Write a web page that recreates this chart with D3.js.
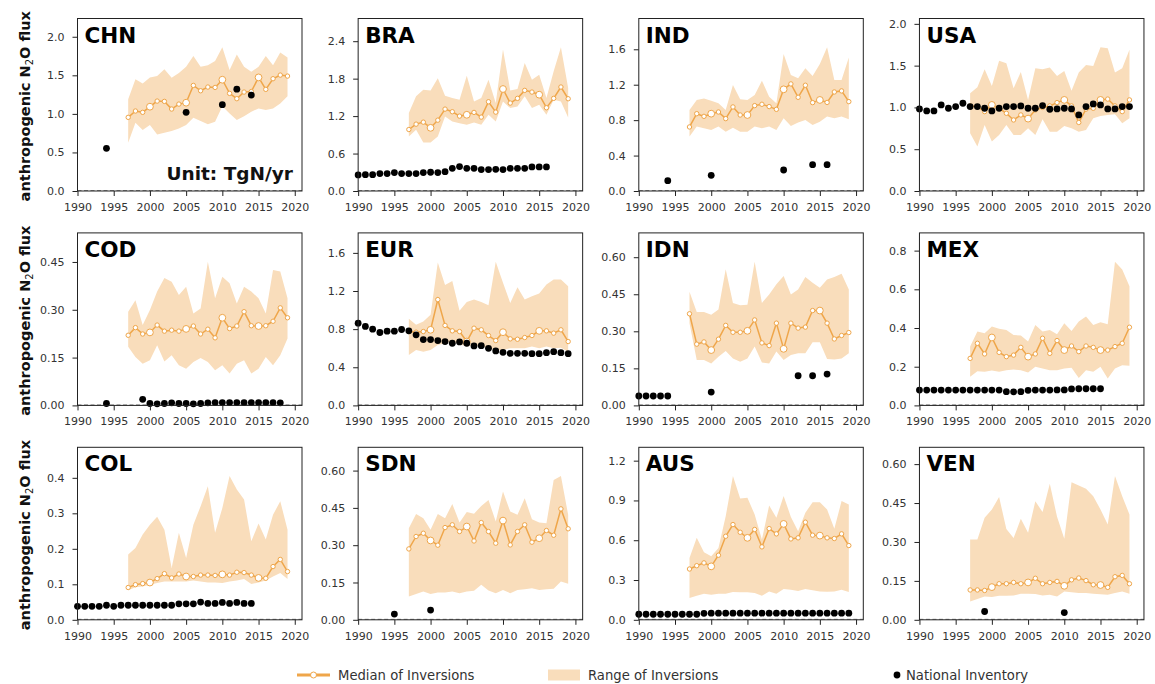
<!DOCTYPE html>
<html>
<head>
<meta charset="utf-8">
<script src="https://cdn.jsdelivr.net/npm/d3@7"></script>
<style>
  body { margin: 0; background: #fff; }
  svg { display: block; }
  text { font-family: "DejaVu Sans", sans-serif; }
</style>
</head>
<body>
<svg id="chart" width="1155" height="684"></svg>
<script>
// ---- data: anthropogenic N2O flux (TgN/yr) ----
const inversionYears = [1997,1998,1999,2000,2001,2002,2003,2004,2005,2006,2007,2008,2009,2010,2011,2012,2013,2014,2015,2016,2017,2018,2019];
const xTickYears = [1990,1995,2000,2005,2010,2015,2020];
const countries = ["CHN","BRA","IND","USA","COD","EUR","IDN","MEX","COL","SDN","AUS","VEN"];

const CHN_median = [0.955,1.037,1.02,1.093,1.166,1.162,1.063,1.127,1.145,1.369,1.30,1.348,1.343,1.443,1.266,1.197,1.283,1.29,1.473,1.318,1.456,1.503,1.49];
const CHN_low    = [0.626,0.886,0.79,0.855,0.734,0.756,0.778,0.812,0.855,0.95,0.907,0.864,0.898,1.10,1.006,0.92,0.97,1.028,1.07,1.05,1.07,1.136,1.23];
const CHN_high   = [1.19,1.45,1.395,1.473,1.49,1.58,1.47,1.53,1.61,1.75,1.61,1.63,1.685,1.864,1.568,1.77,1.61,1.546,1.61,1.75,1.63,1.797,1.73];
const CHN_invYears = [1994,2005,2010,2012,2014];
const CHN_inv      = [0.553,1.02,1.12,1.32,1.244];
const CHN_ticks = [0,0.5,1,1.5,2];

const BRA_median = [0.985,1.071,1.103,1.012,1.135,1.312,1.27,1.20,1.221,1.259,1.184,1.43,1.264,1.634,1.409,1.484,1.612,1.585,1.543,1.334,1.484,1.666,1.478];
const BRA_low    = [0.873,0.98,0.777,0.777,0.873,1.194,1.114,1.087,1.06,1.098,1.06,1.221,1.114,1.435,1.328,1.355,1.516,1.328,1.382,1.221,1.462,1.435,1.178];
const BRA_high   = [1.248,1.516,1.623,1.612,1.805,1.527,1.489,1.462,1.848,1.435,1.489,1.784,1.409,2.266,1.612,1.634,2.05,1.784,1.864,1.489,1.918,2.303,1.65];
const BRA_invYears = [1990,1991,1992,1993,1994,1995,1996,1997,1998,1999,2000,2001,2002,2003,2004,2005,2006,2007,2008,2009,2010,2011,2012,2013,2014,2015,2016];
const BRA_inv      = [0.257,0.262,0.262,0.279,0.279,0.295,0.279,0.279,0.279,0.295,0.30,0.295,0.31,0.364,0.391,0.364,0.364,0.343,0.343,0.348,0.343,0.364,0.364,0.364,0.386,0.386,0.386];
const BRA_ticks = [0,0.6,1.2,1.8,2.4];

const IND_median = [0.723,0.873,0.843,0.873,0.892,0.817,0.949,0.858,0.858,0.964,0.979,0.953,0.922,1.148,1.209,1.058,1.194,0.998,1.028,1.0,1.118,1.13,1.009];
const IND_low    = [0.614,0.727,0.708,0.689,0.727,0.67,0.715,0.67,0.67,0.727,0.708,0.727,0.689,0.821,0.734,0.772,0.802,0.745,0.783,0.84,0.821,0.84,0.81];
const IND_high   = [0.915,1.028,1.043,1.02,0.99,0.915,1.197,1.035,1.028,1.084,1.246,1.065,0.99,1.547,1.31,1.273,1.386,1.299,1.434,1.623,1.254,1.254,1.506];
const IND_invYears = [1994,2000,2010,2014,2016];
const IND_inv      = [0.117,0.177,0.237,0.297,0.297];
const IND_ticks = [0,0.4,0.8,1.2,1.6];

const USA_median = [1.018,1.01,0.95,1.03,0.99,0.93,0.85,0.91,0.866,0.97,1.0,1.018,1.058,1.09,1.018,0.82,0.98,0.99,1.09,1.10,1.018,0.95,1.09];
const USA_low    = [0.69,0.531,0.79,0.591,0.671,0.79,0.671,0.671,0.75,0.671,0.858,0.71,0.71,0.778,0.75,0.71,0.73,0.87,0.898,0.91,0.918,0.81,0.87];
const USA_high   = [1.17,1.242,1.457,1.257,1.557,1.529,1.23,1.425,1.09,1.469,1.457,1.477,1.377,1.437,1.2,1.417,1.509,1.497,1.72,1.709,1.417,1.469,1.689];
const USA_invYears = [1990,1991,1992,1993,1994,1995,1996,1997,1998,1999,2000,2001,2002,2003,2004,2005,2006,2007,2008,2009,2010,2011,2012,2013,2014,2015,2016,2017,2018,2019];
const USA_inv      = [0.982,0.958,0.958,1.03,0.99,1.01,1.05,1.01,1.01,0.99,0.958,0.99,1.01,1.01,1.018,0.99,0.99,1.022,0.978,0.982,0.99,0.982,0.91,1.01,1.042,1.03,0.982,0.982,1.01,1.01];
const USA_ticks = [0,0.5,1,1.5,2];

const COD_median = [0.22,0.244,0.224,0.229,0.252,0.233,0.236,0.233,0.24,0.249,0.224,0.239,0.212,0.275,0.241,0.249,0.294,0.25,0.249,0.25,0.264,0.306,0.275];
const COD_low    = [0.184,0.152,0.131,0.142,0.189,0.138,0.157,0.126,0.115,0.136,0.149,0.136,0.11,0.126,0.10,0.131,0.142,0.10,0.115,0.152,0.126,0.157,0.21];
const COD_high   = [0.294,0.33,0.252,0.299,0.357,0.40,0.388,0.346,0.372,0.288,0.304,0.451,0.336,0.404,0.383,0.32,0.372,0.357,0.336,0.288,0.425,0.42,0.336];
const COD_invYears = [1994,1999,2000,2001,2002,2003,2004,2005,2006,2007,2008,2009,2010,2011,2012,2013,2014,2015,2016,2017,2018];
const COD_inv      = [0.006,0.019,0.006,0.005,0.006,0.008,0.006,0.006,0.005,0.006,0.008,0.009,0.009,0.009,0.009,0.009,0.009,0.009,0.009,0.009,0.008];
const COD_ticks = [0,0.15,0.30,0.45];

const EUR_median = [0.775,0.768,0.775,0.793,1.11,0.839,0.782,0.775,0.67,0.81,0.793,0.733,0.68,0.768,0.698,0.694,0.712,0.733,0.782,0.782,0.758,0.793,0.67];
const EUR_low    = [0.529,0.581,0.564,0.581,0.634,0.652,0.67,0.641,0.617,0.634,0.617,0.599,0.581,0.581,0.599,0.599,0.599,0.617,0.599,0.617,0.599,0.606,0.564];
const EUR_high   = [0.909,0.846,0.881,0.951,1.498,1.262,1.304,0.994,1.085,1.11,1.085,1.05,1.508,1.286,1.075,1.24,1.11,1.145,1.174,1.269,1.322,1.322,1.251];
const EUR_invYears = [1990,1991,1992,1993,1994,1995,1996,1997,1998,1999,2000,2001,2002,2003,2004,2005,2006,2007,2008,2009,2010,2011,2012,2013,2014,2015,2016,2017,2018,2019];
const EUR_inv      = [0.863,0.828,0.80,0.765,0.779,0.779,0.796,0.782,0.74,0.691,0.691,0.68,0.67,0.652,0.666,0.652,0.624,0.627,0.599,0.571,0.557,0.546,0.546,0.546,0.543,0.543,0.553,0.564,0.553,0.543];
const EUR_ticks = [0,0.4,0.8,1.2,1.6];

const IDN_median = [0.371,0.248,0.257,0.224,0.268,0.324,0.296,0.296,0.302,0.346,0.253,0.242,0.333,0.229,0.333,0.313,0.317,0.384,0.384,0.333,0.269,0.283,0.295];
const IDN_low    = [0.333,0.184,0.184,0.17,0.197,0.22,0.19,0.177,0.19,0.238,0.174,0.17,0.218,0.184,0.204,0.211,0.211,0.256,0.256,0.188,0.186,0.19,0.211];
const IDN_high   = [0.46,0.378,0.378,0.367,0.388,0.551,0.415,0.405,0.408,0.582,0.415,0.449,0.49,0.524,0.449,0.469,0.52,0.497,0.476,0.51,0.52,0.533,0.469];
const IDN_invYears = [1990,1991,1992,1993,1994,2000,2012,2014,2016];
const IDN_inv      = [0.038,0.038,0.038,0.038,0.038,0.054,0.12,0.12,0.127];
const IDN_ticks = [0,0.15,0.30,0.45,0.60];

const MEX_median = [0.243,0.321,0.266,0.351,0.274,0.252,0.26,0.30,0.252,0.266,0.347,0.269,0.335,0.286,0.307,0.278,0.307,0.30,0.286,0.286,0.304,0.321,0.404];
const MEX_low    = [0.148,0.177,0.174,0.18,0.174,0.182,0.186,0.182,0.17,0.20,0.191,0.182,0.182,0.191,0.194,0.142,0.182,0.174,0.20,0.139,0.191,0.208,0.205];
const MEX_high   = [0.304,0.382,0.373,0.408,0.396,0.39,0.364,0.361,0.33,0.416,0.382,0.39,0.368,0.425,0.385,0.434,0.46,0.416,0.43,0.42,0.743,0.703,0.616];
const MEX_invYears = [1990,1991,1992,1993,1994,1995,1996,1997,1998,1999,2000,2001,2002,2003,2004,2005,2006,2007,2008,2009,2010,2011,2012,2013,2014,2015];
const MEX_inv      = [0.079,0.079,0.079,0.079,0.079,0.079,0.079,0.079,0.079,0.079,0.079,0.079,0.071,0.070,0.071,0.078,0.079,0.079,0.079,0.080,0.080,0.085,0.086,0.086,0.086,0.086];
const MEX_ticks = [0,0.2,0.4,0.6,0.8];

const COL_median = [0.091,0.099,0.102,0.105,0.116,0.13,0.118,0.129,0.122,0.122,0.126,0.126,0.125,0.128,0.126,0.134,0.133,0.126,0.118,0.117,0.15,0.17,0.136];
const COL_low    = [0.083,0.092,0.094,0.099,0.104,0.108,0.108,0.108,0.108,0.111,0.108,0.105,0.105,0.104,0.108,0.111,0.115,0.101,0.105,0.111,0.122,0.132,0.115];
const COL_high   = [0.184,0.202,0.24,0.268,0.29,0.254,0.146,0.245,0.174,0.268,0.32,0.376,0.245,0.315,0.405,0.367,0.339,0.221,0.271,0.226,0.296,0.334,0.254];
const COL_invYears = [1990,1991,1992,1993,1994,1995,1996,1997,1998,1999,2000,2001,2002,2003,2004,2005,2006,2007,2008,2009,2010,2011,2012,2013,2014];
const COL_inv      = [0.038,0.038,0.038,0.038,0.041,0.038,0.041,0.041,0.041,0.041,0.041,0.041,0.041,0.041,0.045,0.045,0.045,0.05,0.046,0.046,0.049,0.046,0.049,0.046,0.046];
const COL_ticks = [0,0.1,0.2,0.3,0.4];

const SDN_median = [0.285,0.335,0.348,0.319,0.30,0.371,0.382,0.355,0.375,0.317,0.391,0.355,0.308,0.399,0.301,0.355,0.382,0.312,0.328,0.359,0.34,0.446,0.366];
const SDN_low    = [0.094,0.104,0.114,0.104,0.11,0.11,0.114,0.107,0.114,0.117,0.141,0.118,0.107,0.12,0.107,0.12,0.123,0.127,0.12,0.123,0.125,0.154,0.145];
const SDN_high   = [0.368,0.425,0.408,0.362,0.425,0.408,0.466,0.391,0.433,0.426,0.458,0.482,0.395,0.516,0.435,0.422,0.489,0.404,0.391,0.388,0.562,0.578,0.422];
const SDN_invYears = [1995,2000];
const SDN_inv      = [0.023,0.039];
const SDN_ticks = [0,0.15,0.30,0.45,0.60];

const AUS_median = [0.383,0.408,0.429,0.403,0.487,0.63,0.718,0.66,0.618,0.681,0.55,0.688,0.648,0.723,0.61,0.618,0.736,0.638,0.635,0.618,0.613,0.648,0.56];
const AUS_low    = [0.164,0.181,0.197,0.189,0.197,0.197,0.209,0.207,0.207,0.202,0.181,0.214,0.197,0.232,0.227,0.217,0.232,0.222,0.214,0.212,0.214,0.227,0.209];
const AUS_high   = [0.466,0.618,0.509,0.479,0.542,0.781,1.084,0.915,0.92,0.794,0.605,0.862,0.769,0.933,0.776,0.668,0.807,0.887,0.887,0.832,0.686,0.895,0.87];
const AUS_invYears = [1990,1991,1992,1993,1994,1995,1996,1997,1998,1999,2000,2001,2002,2003,2004,2005,2006,2007,2008,2009,2010,2011,2012,2013,2014,2015,2016,2017,2018,2019];
const AUS_inv      = [0.042,0.042,0.042,0.042,0.042,0.042,0.042,0.042,0.042,0.049,0.050,0.050,0.050,0.050,0.050,0.050,0.050,0.050,0.050,0.050,0.050,0.050,0.050,0.050,0.050,0.050,0.050,0.050,0.050,0.050];
const AUS_ticks = [0,0.3,0.6,0.9,1.2];

const VEN_median = [0.115,0.115,0.113,0.126,0.139,0.139,0.144,0.139,0.144,0.16,0.139,0.144,0.148,0.131,0.154,0.161,0.151,0.135,0.134,0.125,0.166,0.171,0.139];
const VEN_low    = [0.071,0.08,0.09,0.088,0.093,0.093,0.094,0.10,0.10,0.099,0.094,0.097,0.09,0.109,0.106,0.103,0.103,0.10,0.098,0.097,0.103,0.109,0.10];
const VEN_high   = [0.309,0.309,0.393,0.425,0.473,0.35,0.315,0.389,0.335,0.457,0.415,0.524,0.397,0.312,0.53,0.518,0.505,0.476,0.425,0.367,0.554,0.476,0.406];
const VEN_invYears = [1999,2010];
const VEN_inv      = [0.032,0.028];
const VEN_ticks = [0,0.15,0.30,0.45,0.60];

const legendLabels = ["Median of Inversions", "Range of Inversions", "National Inventory"];

// table of panels built from the arrays above
const series = {
  CHN: [CHN_median, CHN_low, CHN_high, CHN_invYears, CHN_inv, CHN_ticks],
  BRA: [BRA_median, BRA_low, BRA_high, BRA_invYears, BRA_inv, BRA_ticks],
  IND: [IND_median, IND_low, IND_high, IND_invYears, IND_inv, IND_ticks],
  USA: [USA_median, USA_low, USA_high, USA_invYears, USA_inv, USA_ticks],
  COD: [COD_median, COD_low, COD_high, COD_invYears, COD_inv, COD_ticks],
  EUR: [EUR_median, EUR_low, EUR_high, EUR_invYears, EUR_inv, EUR_ticks],
  IDN: [IDN_median, IDN_low, IDN_high, IDN_invYears, IDN_inv, IDN_ticks],
  MEX: [MEX_median, MEX_low, MEX_high, MEX_invYears, MEX_inv, MEX_ticks],
  COL: [COL_median, COL_low, COL_high, COL_invYears, COL_inv, COL_ticks],
  SDN: [SDN_median, SDN_low, SDN_high, SDN_invYears, SDN_inv, SDN_ticks],
  AUS: [AUS_median, AUS_low, AUS_high, AUS_invYears, AUS_inv, AUS_ticks],
  VEN: [VEN_median, VEN_low, VEN_high, VEN_invYears, VEN_inv, VEN_ticks]
};

// ---- layout & style ----
const ORANGE = "#EFA64A";
const BAND = "#F9DDBB";
const panelW = 224.5, panelH = 172.5;
const colX = c => 77.5 + c * 280.65;
const rowY = r => 18.5 + r * 214.4;

const svg = d3.select("#chart");

countries.forEach((code, k) => {
  const [median, low, high, invYears, inv, ticks] = series[code];
  const col = k % 4, row = Math.floor(k / 4);
  const g = svg.append("g").attr("transform", `translate(${colX(col)},${rowY(row)})`);

  const yMax = 1.2 * d3.max([...median, ...high, ...inv]);
  const x = d3.scaleLinear().domain([1990, 2021]).range([0, panelW]);
  const y = d3.scaleLinear().domain([0, yMax]).range([panelH, 0]);

  const inversion = inversionYears.map((yr, i) => ({ yr, med: median[i], lo: low[i], hi: high[i] }));
  const national = invYears.map((yr, i) => ({ yr, v: inv[i] }));

  // range of inversions
  g.append("path")
    .datum(inversion)
    .attr("fill", BAND)
    .attr("d", d3.area().x(d => x(d.yr)).y0(d => y(d.lo)).y1(d => y(d.hi)));

  // zero reference line
  g.append("line")
    .attr("x1", 0).attr("x2", panelW)
    .attr("y1", y(0) - 0.5).attr("y2", y(0) - 0.5)
    .attr("stroke", "#888").attr("stroke-width", 1).attr("stroke-dasharray", "4,2.5");

  // median of inversions
  g.append("path")
    .datum(inversion)
    .attr("fill", "none")
    .attr("stroke", ORANGE)
    .attr("stroke-width", 1.5)
    .attr("d", d3.line().x(d => x(d.yr)).y(d => y(d.med)));

  g.selectAll("circle.med")
    .data(inversion)
    .join("circle")
    .attr("class", "med")
    .attr("cx", d => x(d.yr))
    .attr("cy", d => y(d.med))
    .attr("r", d => d.yr % 5 === 0 ? 3.4 : 2.2)
    .attr("fill", "#fff")
    .attr("stroke", ORANGE)
    .attr("stroke-width", 1);

  // national inventory
  g.selectAll("circle.inv")
    .data(national)
    .join("circle")
    .attr("class", "inv")
    .attr("cx", d => x(d.yr))
    .attr("cy", d => y(d.v))
    .attr("r", 3.4)
    .attr("fill", "#000");

  // axes
  const decimals = d3.max(ticks, t => (String(t).split(".")[1] || "").length);
  const xAxis = g.append("g")
    .attr("transform", `translate(0,${panelH})`)
    .call(d3.axisBottom(x).tickValues(xTickYears).tickFormat(d3.format("d")).tickSize(5).tickPadding(7));
  const yAxis = g.append("g")
    .call(d3.axisLeft(y).tickValues(ticks).tickFormat(d3.format(`.${decimals}f`)).tickSize(5).tickPadding(8));
  [xAxis, yAxis].forEach(a => {
    a.select(".domain").remove();
    a.selectAll(".tick line").attr("stroke", "#222");
    a.selectAll(".tick text")
      .attr("fill", "#333")
      .style("font-family", '"DejaVu Sans", sans-serif')
      .style("font-size", "11px");
  });

  // frame
  g.append("rect")
    .attr("x", 0).attr("y", 0).attr("width", panelW).attr("height", panelH)
    .attr("fill", "none").attr("stroke", "#222").attr("stroke-width", 1);

  // panel title
  g.append("text")
    .attr("x", 7).attr("y", 24)
    .attr("font-size", 21.5).attr("font-weight", "bold").attr("fill", "#000")
    .text(code);

  if (k === 0) {
    g.append("text")
      .attr("x", panelW - 9).attr("y", panelH - 11)
      .attr("text-anchor", "end")
      .attr("font-size", 18.5).attr("font-weight", "bold").attr("fill", "#111")
      .text("Unit: TgN/yr");
  }

  if (col === 0) {
    const lab = svg.append("text")
      .attr("transform", `translate(29.5,${rowY(row) + panelH / 2 + 1.5}) rotate(-90)`)
      .attr("text-anchor", "middle")
      .attr("font-size", 14.5).attr("font-weight", "bold").attr("fill", "#111");
    lab.append("tspan").text("anthropogenic N");
    lab.append("tspan").attr("font-size", 10).attr("font-weight", "normal").attr("dy", 3).text("2");
    lab.append("tspan").attr("dy", -3).text("O flux");
  }
});

// ---- legend ----
const lg = svg.append("g").attr("transform", "translate(0,675)");
lg.append("line").attr("x1", 297).attr("x2", 330).attr("y1", 0).attr("y2", 0)
  .attr("stroke", ORANGE).attr("stroke-width", 3);
lg.append("circle").attr("cx", 313.5).attr("cy", 0).attr("r", 3)
  .attr("fill", "#fff").attr("stroke", ORANGE).attr("stroke-width", 1);
lg.append("rect").attr("x", 548).attr("y", -5.5).attr("width", 32).attr("height", 11).attr("fill", BAND);
lg.append("circle").attr("cx", 897).attr("cy", 0).attr("r", 3.4).attr("fill", "#000");
lg.selectAll("text.leg")
  .data(legendLabels)
  .join("text")
  .attr("class", "leg")
  .attr("x", (d, i) => [338, 588, 906][i])
  .attr("y", 5)
  .attr("font-size", 13.2)
  .attr("fill", "#333")
  .text(d => d);
</script>
</body>
</html>
